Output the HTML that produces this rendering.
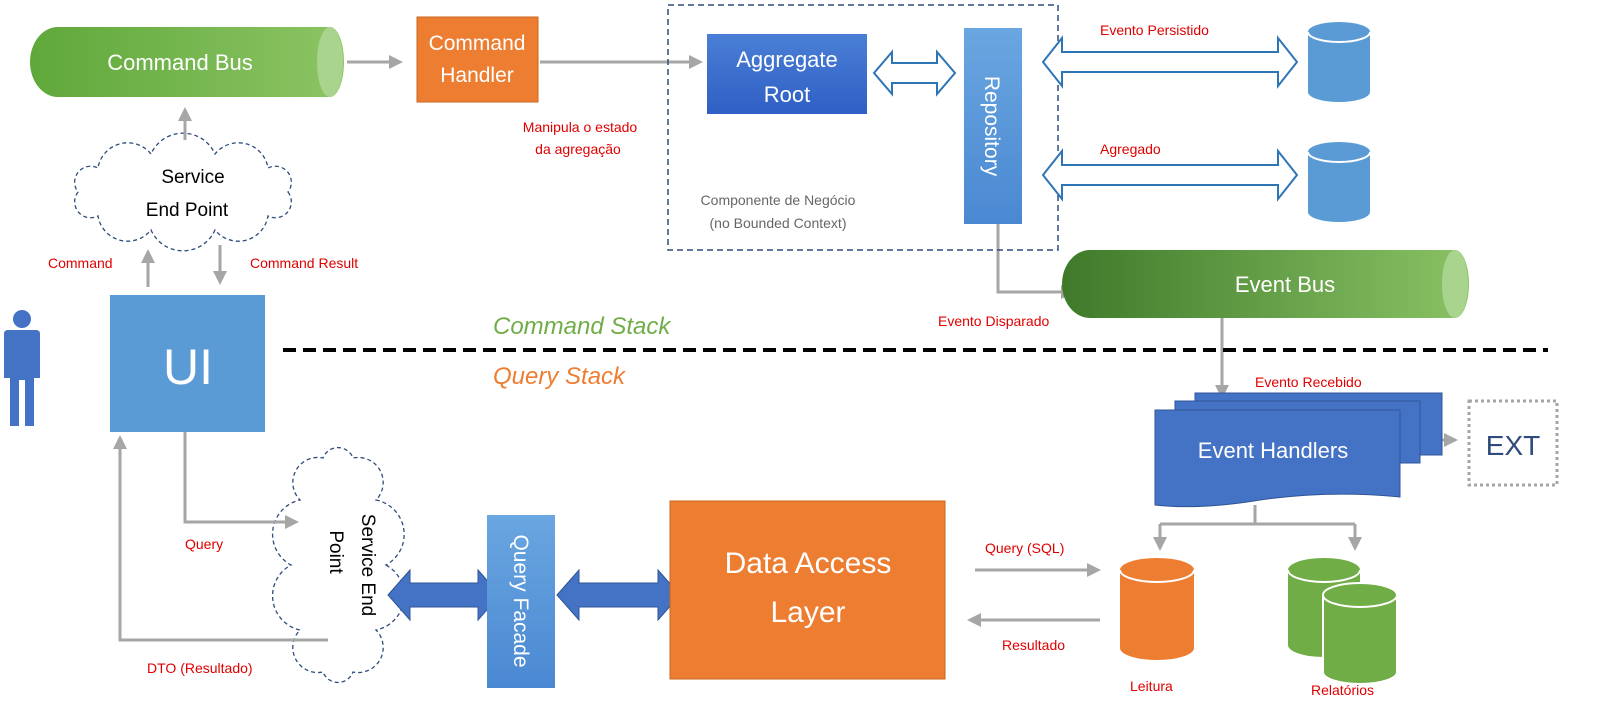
<!DOCTYPE html>
<html><head><meta charset="utf-8"><style>
html,body{margin:0;padding:0;background:#fff;}
svg{display:block;font-family:"Liberation Sans",sans-serif;}
.r{fill:#e00000;font-size:14px;}
</style></head><body>
<svg width="1618" height="726" viewBox="0 0 1618 726" xmlns="http://www.w3.org/2000/svg">
<defs>
<linearGradient id="gCB" x1="0" y1="0" x2="1" y2="0"><stop offset="0" stop-color="#5fa83a"/><stop offset="1" stop-color="#8cc464"/></linearGradient>
<linearGradient id="gEB" x1="0" y1="0" x2="1" y2="0"><stop offset="0" stop-color="#3e7a2a"/><stop offset="1" stop-color="#8ac264"/></linearGradient>
<linearGradient id="gAR" x1="0" y1="0" x2="0" y2="1"><stop offset="0" stop-color="#4a7fd6"/><stop offset="1" stop-color="#2f5fc4"/></linearGradient>
<linearGradient id="gRP" x1="0" y1="0" x2="0" y2="1"><stop offset="0" stop-color="#6aa6e0"/><stop offset="1" stop-color="#4a88d2"/></linearGradient>
<marker id="ah2" markerWidth="14" markerHeight="14" refX="11" refY="7" orient="auto" markerUnits="userSpaceOnUse"><path d="M0,0 L14,7 L0,14 Z" fill="#a6a6a6"/></marker>
</defs>

<!-- Cloud 1 -->
<path d="M288,192 A16 16 0 0 1 268,216 A30 30 0 0 1 215,230 A35 35 0 0 1 151,230 A30 30 0 0 1 98,216 A16 16 0 0 1 78,192 A16 16 0 0 1 98,168 A30 30 0 0 1 151,154 A35 35 0 0 1 215,154 A30 30 0 0 1 268,168 A16 16 0 0 1 288,192 Z" fill="#fff" stroke="#2f4b7c" stroke-width="1.3" stroke-dasharray="4,3"/>
<text x="193" y="183" font-size="19" text-anchor="middle">Service</text>
<text x="187" y="216" font-size="19" text-anchor="middle">End Point</text>

<!-- Cloud 2 -->
<path d="M386,565 A35 35 0 0 1 376,630 A25 25 0 0 1 353,672 A16 16 0 0 1 323,672 A25 25 0 0 1 300,630 A35 35 0 0 1 291,565 A35 35 0 0 1 300,500 A25 25 0 0 1 323,458 A16 16 0 0 1 353,458 A25 25 0 0 1 376,500 A35 35 0 0 1 386,565 Z" fill="#fff" stroke="#2f4b7c" stroke-width="1.3" stroke-dasharray="4,3"/>
<text transform="translate(362,565) rotate(90)" font-size="19" text-anchor="middle">Service End</text>
<text transform="translate(330,552) rotate(90)" font-size="19" text-anchor="middle">Point</text>

<!-- Command Bus -->
<path d="M58,27 H330 A14,35 0 0 1 330,97 H58 A28,35 0 0 1 58,27 Z" fill="url(#gCB)"/>
<ellipse cx="330" cy="62" rx="13" ry="35" fill="#a9d48e"/>
<text x="180" y="70" fill="#fff" font-size="22" text-anchor="middle">Command Bus</text>

<g stroke="#a6a6a6" stroke-width="3" fill="none">
<line x1="347" y1="62" x2="400" y2="62" marker-end="url(#ah2)"/>
<line x1="540" y1="62" x2="700" y2="62" marker-end="url(#ah2)"/>
<line x1="185" y1="140" x2="185" y2="110" marker-end="url(#ah2)"/>
<line x1="148" y1="287" x2="148" y2="252" marker-end="url(#ah2)"/>
<line x1="220" y1="245" x2="220" y2="282" marker-end="url(#ah2)"/>
<polyline points="998,224 998,292 1072,292" marker-end="url(#ah2)"/>
<line x1="1222" y1="318" x2="1222" y2="396" marker-end="url(#ah2)"/>
<line x1="1408" y1="440" x2="1455" y2="440" marker-end="url(#ah2)"/>
<line x1="1255" y1="505" x2="1255" y2="524"/>
<line x1="1160" y1="524" x2="1355" y2="524"/>
<line x1="1160" y1="524" x2="1160" y2="548" marker-end="url(#ah2)"/>
<line x1="1355" y1="524" x2="1355" y2="548" marker-end="url(#ah2)"/>
<line x1="975" y1="570" x2="1098" y2="570" marker-end="url(#ah2)"/>
<line x1="1100" y1="620" x2="970" y2="620" marker-end="url(#ah2)"/>
<polyline points="185,432 185,522 296,522" marker-end="url(#ah2)"/>
<polyline points="328,640 120,640 120,438" marker-end="url(#ah2)"/>
</g>

<!-- Command Handler -->
<rect x="417" y="17" width="121" height="85" fill="#ed7d31" stroke="#c8661f"/>
<text x="477" y="50" fill="#fff" font-size="21" text-anchor="middle">Command</text>
<text x="477" y="82" fill="#fff" font-size="21" text-anchor="middle">Handler</text>
<text x="580" y="132" class="r" text-anchor="middle">Manipula o estado</text>
<text x="578" y="154" class="r" text-anchor="middle">da agregação</text>

<!-- business component -->
<rect x="668" y="5" width="390" height="245" fill="none" stroke="#2f4b7c" stroke-width="1.5" stroke-dasharray="6,4"/>
<rect x="707" y="34" width="160" height="80" fill="url(#gAR)"/>
<text x="787" y="67" fill="#fff" font-size="22" text-anchor="middle">Aggregate</text>
<text x="787" y="102" fill="#fff" font-size="22" text-anchor="middle">Root</text>
<text x="778" y="205" fill="#666" font-size="14" text-anchor="middle">Componente de Negócio</text>
<text x="778" y="228" fill="#666" font-size="14" text-anchor="middle">(no Bounded Context)</text>
<path d="M874,73 L892,52 V63 H937 V52 L955,73 L937,94 V83 H892 V94 Z" fill="#fff" stroke="#2e75b6" stroke-width="2"/>
<rect x="964" y="28" width="58" height="196" fill="url(#gRP)"/>
<text transform="translate(985,126) rotate(90)" fill="#fff" font-size="21" text-anchor="middle">Repository</text>

<path d="M1043,62 L1062,38 V52 H1278 V38 L1297,62 L1278,86 V72 H1062 V86 Z" fill="#fff" stroke="#2e75b6" stroke-width="2"/>
<path d="M1043,175 L1062,151 V165 H1278 V151 L1297,175 L1278,199 V185 H1062 V199 Z" fill="#fff" stroke="#2e75b6" stroke-width="2"/>
<text x="1100" y="35" class="r">Evento Persistido</text>
<text x="1100" y="154" class="r">Agregado</text>
<g fill="#5b9bd5">
<path d="M1308,32 A31,10 0 0 1 1370,32 V92 A31,10 0 0 1 1308,92 Z"/>
<path d="M1308,152 A31,10 0 0 1 1370,152 V212 A31,10 0 0 1 1308,212 Z"/>
</g>
<path d="M1308,32 A31,10 0 0 0 1370,32" fill="none" stroke="#fff" stroke-width="2"/>
<path d="M1308,152 A31,10 0 0 0 1370,152" fill="none" stroke="#fff" stroke-width="2"/>

<!-- Event Bus -->
<path d="M1090,250 H1455 A14,34 0 0 1 1455,318 H1090 A28,34 0 0 1 1090,250 Z" fill="url(#gEB)"/>
<ellipse cx="1455" cy="284" rx="13" ry="34" fill="#a9d48e"/>
<text x="1285" y="292" fill="#fff" font-size="22" text-anchor="middle">Event Bus</text>
<text x="938" y="326" class="r">Evento Disparado</text>

<!-- stacks -->
<text x="493" y="334" fill="#70ad47" font-size="24" font-style="italic">Command Stack</text>
<line x1="283" y1="350" x2="1548" y2="350" stroke="#000" stroke-width="4" stroke-dasharray="13,7"/>
<text x="493" y="384" fill="#ed7d31" font-size="24" font-style="italic">Query Stack</text>

<!-- person -->
<g fill="#4472c4">
<circle cx="22" cy="319" r="9"/>
<path d="M8,330 H36 Q40,330 40,334 V378 H34 V426 H25 V380 H19 V426 H10 V378 H4 V334 Q4,330 8,330 Z"/>
</g>
<!-- UI -->
<rect x="110" y="295" width="155" height="137" fill="#5b9bd5"/>
<text x="188" y="384" fill="#fff" font-size="50" text-anchor="middle">UI</text>

<text x="48" y="268" class="r">Command</text>
<text x="250" y="268" class="r">Command Result</text>
<text x="185" y="549" class="r">Query</text>
<text x="147" y="673" class="r">DTO (Resultado)</text>

<!-- fat arrows -->
<path d="M388,595 L410,570 V583 H478 V570 L500,595 L478,620 V607 H410 V620 Z" fill="#4472c4" stroke="#2f5597"/>
<path d="M557,595 L579,570 V583 H658 V570 L680,595 L658,620 V607 H579 V620 Z" fill="#4472c4" stroke="#2f5597"/>
<!-- Query Facade -->
<rect x="487" y="515" width="68" height="173" fill="url(#gRP)"/>
<text transform="translate(514,601) rotate(90)" fill="#fff" font-size="21" text-anchor="middle">Query Facade</text>
<!-- DAL -->
<rect x="670" y="501" width="275" height="178" fill="#ed7d31" stroke="#c8661f"/>
<text x="808" y="573" fill="#fff" font-size="30" text-anchor="middle">Data Access</text>
<text x="808" y="622" fill="#fff" font-size="30" text-anchor="middle">Layer</text>
<text x="985" y="553" class="r">Query (SQL)</text>
<text x="1002" y="650" class="r">Resultado</text>

<!-- Event Handlers -->
<rect x="1195" y="393" width="247" height="62" fill="#4472c4" stroke="#2f5597"/>
<rect x="1175" y="401" width="245" height="62" fill="#4472c4" stroke="#2f5597"/>
<path d="M1155,410 H1400 V497 Q1330,490 1260,500 Q1200,510 1155,505 Z" fill="#4472c4" stroke="#2f5597"/>
<text x="1273" y="458" fill="#fff" font-size="22" text-anchor="middle">Event Handlers</text>
<text x="1255" y="387" class="r">Evento Recebido</text>
<rect x="1469" y="401" width="88" height="84" fill="none" stroke="#a6a6a6" stroke-width="3" stroke-dasharray="3,3"/>
<text x="1513" y="455" fill="#2f4b7c" font-size="28" text-anchor="middle">EXT</text>

<!-- DBs bottom -->
<path d="M1120,570 A37,12 0 0 1 1194,570 V648 A37,12 0 0 1 1120,648 Z" fill="#ed7d31"/>
<path d="M1120,570 A37,12 0 0 0 1194,570" fill="none" stroke="#fff" stroke-width="2"/>
<path d="M1288,570 A36,12 0 0 1 1360,570 V645 A36,12 0 0 1 1288,645 Z" fill="#70ad47"/>
<path d="M1288,570 A36,12 0 0 0 1360,570" fill="none" stroke="#fff" stroke-width="2"/>
<path d="M1323,595 A37,12 0 0 1 1397,595 V672 A37,12 0 0 1 1323,672 Z" fill="#70ad47" stroke="#fff" stroke-width="2"/>
<path d="M1323,595 A37,12 0 0 0 1397,595" fill="none" stroke="#fff" stroke-width="2"/>
<text x="1130" y="691" class="r">Leitura</text>
<text x="1311" y="695" class="r">Relatórios</text>
</svg>
</body></html>
